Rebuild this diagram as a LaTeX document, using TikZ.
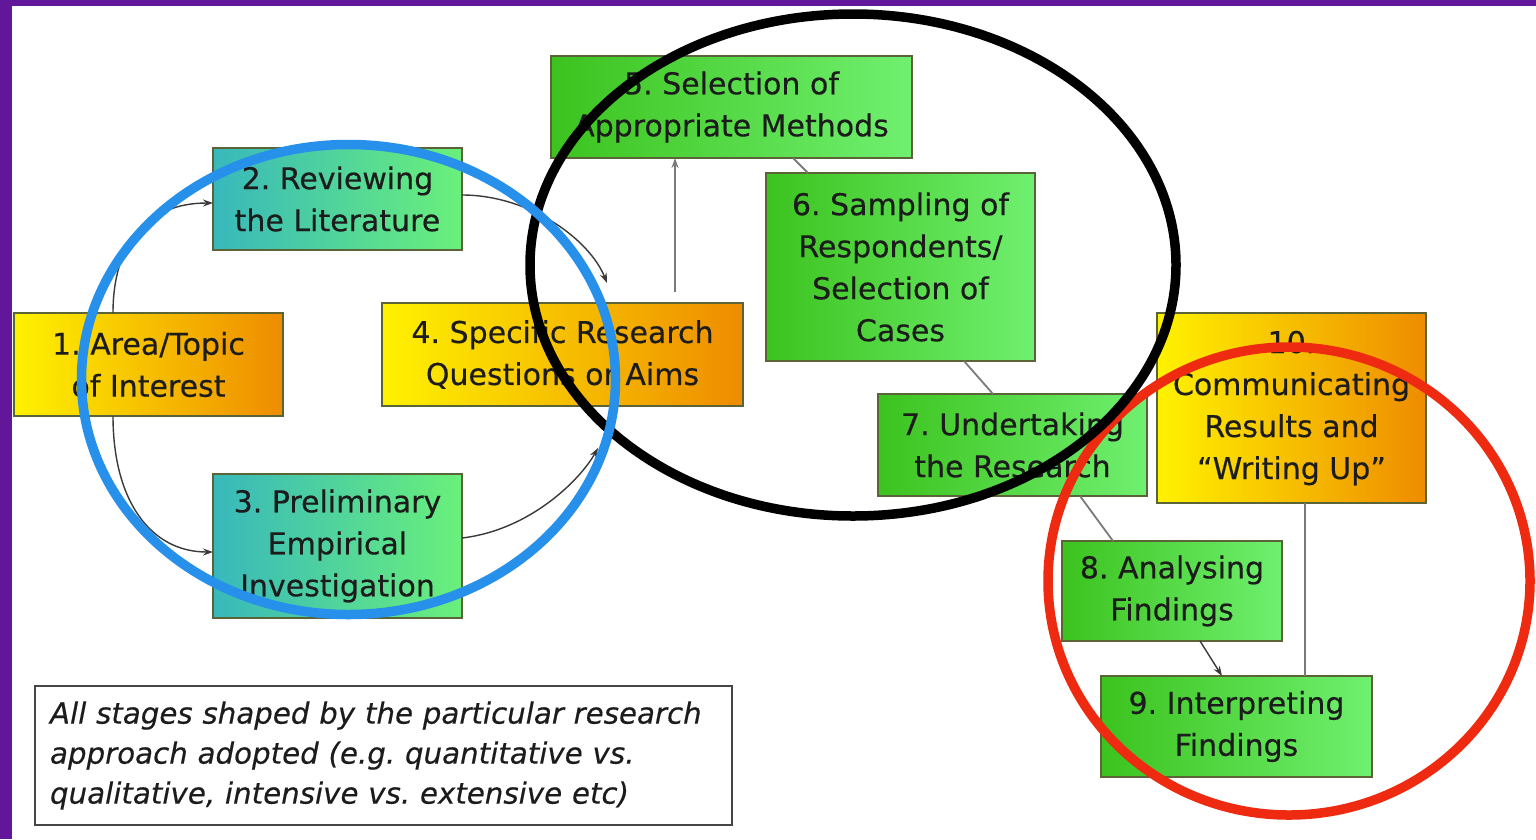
\documentclass[tikz,border=0pt]{standalone}
\usepackage{fontspec}
\setmainfont{DejaVu Sans}[FakeBold=0.35]
\frenchspacing
\usetikzlibrary{arrows.meta,calc}

\definecolor{frame}{HTML}{62169A}
\definecolor{boxline}{HTML}{5A6436}
\definecolor{txt}{HTML}{1C1C1C}
\definecolor{ylw}{HTML}{FFF200}
\definecolor{org}{HTML}{EE8C00}
\definecolor{tlA}{HTML}{38B8BC}
\definecolor{tlB}{HTML}{6AF07A}
\definecolor{grA}{HTML}{3CC31E}
\definecolor{grB}{HTML}{70F070}
\definecolor{ringblue}{HTML}{2690EA}
\definecolor{ringred}{HTML}{EE2A10}
\definecolor{linkdark}{HTML}{3A3A3A}
\definecolor{linkgray}{HTML}{7A7A7A}

\tikzset{
  stage/.style={draw=boxline, line width=1.2pt, inner sep=0pt, outer sep=0pt,
    align=center, text=txt, font=\fontsize{30}{42}\selectfont},
  warm/.style={stage, left color=ylw, right color=org},
  teal/.style={stage, left color=tlA, right color=tlB},
  leaf/.style={stage, left color=grA, right color=grB},
  curvelink/.style={draw=linkdark, line width=1.4pt},
  straightlink/.style={draw=linkgray, line width=1.8pt},
  tip/.style={-{Stealth[length=10pt,width=7pt]}},
  ring/.style={line width=9.5pt}
}

\begin{document}
\begin{tikzpicture}[x=1pt,y=-1pt]
\useasboundingbox (0,0) rectangle (1536,839);
\fill[white] (0,0) rectangle (1536,839);
% frame strips
\fill[frame] (0,0) rectangle (1536,6);
\fill[frame] (0,0) rectangle (12,839);

% stages
\node[warm, minimum width=269pt, minimum height=103pt] (n1) at (148.5,364.5) {1. Area/Topic\\of Interest};
\node[teal, minimum width=249pt, minimum height=102pt] (n2) at (337.5,199) {2. Reviewing\\the Literature};
\node[teal, minimum width=249pt, minimum height=144pt] (n3) at (337.5,546) {3. Preliminary\\Empirical\\Investigation};
\node[warm, minimum width=361pt, minimum height=103pt] (n4) at (562.5,354.5) {4. Specific Research\\Questions or Aims};
\node[leaf, minimum width=361pt, minimum height=102pt] (n5) at (731.5,107) {5. Selection of\\Appropriate Methods};
\node[leaf, minimum width=269pt, minimum height=188pt] (n6) at (900.5,267) {6. Sampling of\\Respondents/\\Selection of\\Cases};
\node[leaf, minimum width=269pt, minimum height=102pt] (n7) at (1012.5,445) {7. Undertaking\\the Research};
\node[leaf, minimum width=220pt, minimum height=100pt] (n8) at (1172,591) {8. Analysing\\Findings};
\node[leaf, minimum width=271pt, minimum height=101pt] (n9) at (1236.5,726.5) {9. Interpreting\\Findings};
\node[warm, minimum width=269pt, minimum height=190pt] (n10) at (1291.5,408) {10.\\Communicating\\Results and\\“Writing Up”};

% note
\node[draw=gray!55!black, line width=1.5pt, fill=white, inner sep=0pt,
  minimum width=697pt, minimum height=139pt, text width=667pt, align=left,
  text=txt, font=\itshape\fontsize{29.3}{40}\selectfont] (note) at (383.5,755.5)
  {All stages shaped by the particular research\\approach adopted (e.g. quantitative vs.\\qualitative, intensive vs. extensive etc)};

% free ends of the links into stage 4
\coordinate (t24) at (607,283);
\coordinate (t34) at (598,448);
\coordinate (s45) at (675,292);

% curved links
\draw[curvelink, tip] ([xshift=99pt]n1.north west) .. controls (113,240) and (150,203) .. ([yshift=-4pt]n2.west);
\draw[curvelink, tip] ([xshift=99pt]n1.south west) .. controls (113,500) and (150,552) .. ([yshift=-6pt]n3.west);
\draw[curvelink, tip] ([yshift=4pt]n2.east) .. controls (530,195) and (590,240) .. (t24);
\draw[curvelink, tip] ([yshift=8pt]n3.east) .. controls (530,530) and (580,480) .. (t34);

% straight links
\draw[straightlink, tip] (s45) -- (s45 |- n5.south);
\draw[straightlink] ([xshift=242pt]n5.south west) -- ([xshift=42pt]n6.north west);
\draw[straightlink] ([xshift=198pt]n6.south west) -- ([xshift=115pt]n7.north west);
\draw[straightlink] ([xshift=202pt]n7.south west) -- ([xshift=51pt]n8.north west);
\draw[curvelink, tip] ([xshift=138pt]n8.south west) -- ([xshift=121pt]n9.north west);
\draw[straightlink] ([xshift=148pt]n10.south west) -- ([xshift=204pt]n9.north west);

% grouping rings
\draw[ring, ringred] (1289,581) ellipse [x radius=241pt, y radius=234pt];
\draw[ring, black] (853,265) ellipse [x radius=323pt, y radius=251pt];
\draw[ring, ringblue] (348.5,379.5) ellipse [x radius=267pt, y radius=235pt];
\end{tikzpicture}
\end{document}
